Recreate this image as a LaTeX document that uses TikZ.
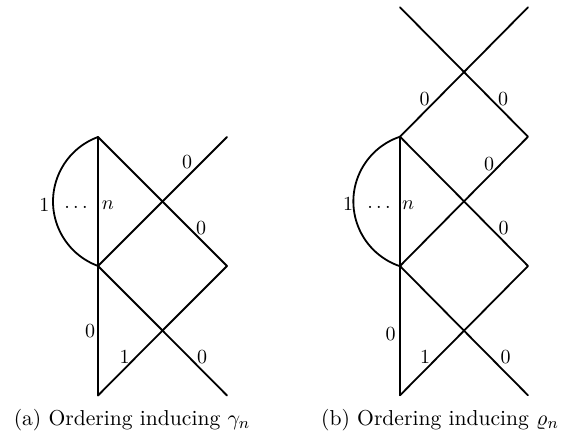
\documentclass[tikz,border=0pt]{standalone}
\begin{document}
\begin{tikzpicture}[x=0.5pt,y=0.5pt,
  edge/.style={line width=0.9pt,line cap=round,line join=round},
  lbl/.style={inner sep=0pt,font=\fontsize{10}{12}\selectfont},
  captxt/.style={inner sep=0pt,anchor=base,font=\fontsize{10.8}{13}\selectfont}]
\useasboundingbox (0,0) rectangle (567,-435);
% ---------- (a) ----------
\coordinate (aV1) at (98,-137);
\coordinate (aV2) at (98,-266);
\coordinate (aV3) at (98,-395.5);
\coordinate (aC1) at (162.5,-201.5);
\coordinate (aC2) at (162.5,-330.5);
\coordinate (aR)  at (227,-266);
\coordinate (aE1) at (227,-137);
\coordinate (aE2) at (227,-395.5);
\draw[edge] (aV1) -- (aC1) -- (aR);
\draw[edge] (aE1) -- (aC1) -- (aV2);
\draw[edge] (aV2) -- (aC2) -- (aE2);
\draw[edge] (aR) -- (aC2) -- (aV3);
\draw[edge] (aV1) -- (aV3);
\draw[edge] (aV1) arc[start angle=110.2,end angle=249.8,radius=68.7];
\node[lbl] (a1) at (44.5,-205) {1};
\node[lbl] (adots) at (76,-207) {$\dots$};
\node[lbl] (an) at (108,-205) {$n$};
\node[lbl] (a0a) at (187,-162.5) {0};
\node[lbl] (a0b) at (201,-228) {0};
\node[lbl] (a0c) at (90,-331) {0};
\node[lbl] (a1b) at (124.5,-356.5) {1};
\node[lbl] (a0d) at (202,-357) {0};
\node[captxt] (capa) at (132,-425) {(a) Ordering inducing $\gamma_n$};
% ---------- (b) ----------
\coordinate (bT1) at (400,-7.3);
\coordinate (bT2) at (528,-7.3);
\coordinate (bC0) at (464,-72);
\coordinate (bV1) at (400,-136.7);
\coordinate (bR1) at (528,-136.7);
\coordinate (bC1) at (464,-201.3);
\coordinate (bV2) at (400,-266);
\coordinate (bR2) at (528,-266);
\coordinate (bC2) at (464,-330.7);
\coordinate (bV3) at (400,-395.3);
\coordinate (bE2) at (528,-395.3);
\draw[edge] (bT1) -- (bC0) -- (bR1) -- (bC1) -- (bV2);
\draw[edge] (bT2) -- (bC0) -- (bV1) -- (bC1) -- (bR2) -- (bC2) -- (bV3);
\draw[edge] (bV2) -- (bC2) -- (bE2);
\draw[edge] (bV1) -- (bV3);
\draw[edge] (bV1) arc[start angle=108.5,end angle=251.5,radius=68.3];
\node[lbl] (b0a) at (424.5,-99) {0};
\node[lbl] (b0b) at (503,-99) {0};
\node[lbl] (b0c) at (489,-164) {0};
\node[lbl] (b1) at (348,-204) {1};
\node[lbl] (bdots) at (379,-207) {$\dots$};
\node[lbl] (bn) at (408,-205) {$n$};
\node[lbl] (b0d) at (503.5,-228) {0};
\node[lbl] (b0e) at (390.5,-334) {0};
\node[lbl] (b1b) at (425,-357) {1};
\node[lbl] (b0f) at (505.5,-357) {0};
\node[captxt] (capb) at (440,-425) {(b) Ordering inducing $\varrho_n$};
\end{tikzpicture}
\end{document}
